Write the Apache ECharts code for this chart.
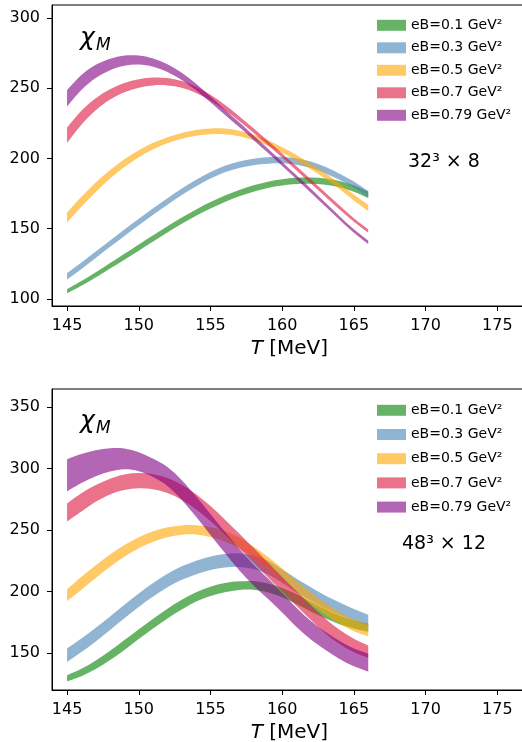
<!DOCTYPE html>
<html>
<head>
<meta charset="utf-8">
<script src="https://cdn.jsdelivr.net/npm/echarts@6/dist/echarts.min.js"></script>
<style>
html,body{margin:0;padding:0;background:#fff;}
#c{width:522px;height:742px;}
</style>
</head>
<body>
<div id="c"></div>
<script>
// ---------- data ----------
const T = [145,146,147,148,149,150,151,152,153,154,155,156,157,158,159,160,161,162,163,164,165,166];
const bandNames = ['eB=0.1 GeV²','eB=0.3 GeV²','eB=0.5 GeV²','eB=0.7 GeV²','eB=0.79 GeV²'];
const xTicks = [145,150,155,160,165,170,175];
const yTicksTop = [100,150,200,250,300];
const yTicksBottom = [150,200,250,300,350];
const latticeTop = '32³ × 8';
const latticeBottom = '48³ × 12';

// 32^3 x 8 : band centres (c) and full band widths (w)
const c8_01 = [105.5,111.1,117.2,123.6,130.1,136.6,143.1,149.5,155.7,161.5,166.7,171.3,175.3,178.6,181.2,183,184,184.2,183.5,181.7,178.6,174.1];
const w8_01 = [3,3.4,3.7,4,4.2,4.4,4.5,4.5,4.5,4.5,4.5,4.5,4.5,4.5,4.5,4.5,4.5,4.5,4.5,4.5,4.6,4.6];
const c8_03 = [116,123.6,131.5,139.4,147.2,154.8,162.2,169.4,176.3,182.5,188,192.5,195.5,197.5,198.6,198.8,197.8,195.5,191.8,187,181.5,174.7];
const w8_03 = [4.6,4.6,4.6,4.6,4.6,4.6,4.6,4.6,4.6,4.6,4.6,4.6,4.6,4.6,4.6,4.6,4.6,4.6,4.5,4.4,4.3,4.2];
const c8_05 = [158,169.2,179.5,188.7,196.7,203.4,208.8,213,216.1,218.2,219.3,219.3,217.8,215,211,206,200.4,194.3,187.6,180.2,172.2,164.7];
const w8_05 = [7,7,6.6,6,5.5,5,4.6,4.3,4,4,4,4,4,4,4,4,4,4,4,4,4.2,4.4];
const c8_07 = [216.5,229,238.6,245.6,250.4,253.4,254.8,254.6,252.7,248.8,243.3,236.3,228.4,219.9,211.1,202.1,192.9,183.6,174.3,165.1,156.2,148.4];
const w8_07 = [11,10,8.6,7.4,6.6,6,5.6,5.2,4.8,4.4,4,3.7,3.4,3.2,3,3,3,2.9,2.8,2.7,2.6,2.5];
const c8_079 = [242.8,254,261.9,266.9,269.6,270,268.2,264.3,258.4,250.8,242,233,224,214.8,205.5,196.1,186.6,177,167.3,157.7,148.4,140.4];
const w8_079 = [11.6,10.6,9.4,8.2,7.2,6.4,5.9,5.5,5.1,4.6,4.1,3.7,3.4,3.2,3,2.9,2.8,2.7,2.6,2.5,2.4,2.4];

// 48^3 x 12 : band centres (c) and full band widths (w)
const c12_01 = [129.5,134.2,140.5,148.1,156.6,165.4,174,182.1,189.4,195.6,200.2,203.2,204.8,205,203,199.2,193.8,187.8,182,177,173.2,170.5];
const w12_01 = [5,6,7,7.5,8,8,8,8,8,7.5,7.5,7.5,7,7,7,7.5,8,8,7.5,7,6.5,6.5];
const c12_03 = [148.3,156.4,165,174.3,183.8,193,201.5,209,215,219.6,223,225,225.5,223.8,219.5,212.5,205,198,191.5,186,181,176.5];
const w12_03 = [11,11,11,11,11,11,11,11,11,11,11,11,11,11,11,11,11,11,10.6,10.2,9.8,9.5];
const c12_05 = [197,206.7,216.2,225.1,233,239.6,244.7,248.2,250,250.1,248.4,245,239.5,232,223.5,214,204,194.5,186,178.5,172.5,168.5];
const w12_05 = [9.6,10.5,10.5,10,9.6,9,8.6,8,7.5,7.5,8,8.5,9,9.3,9.5,9.5,9.5,9.5,9.5,9.5,9.5,9.5];
const c12_07 = [264.3,272.5,279.7,285.3,288.8,290.1,289.2,286.1,280.7,273,263.4,252.6,241.2,229.5,217.7,205.9,194.2,182.8,172.2,163.2,156.2,151.2];
const w12_07 = [14.7,14.9,13.6,12.7,12.7,12.4,12.2,12.2,12.2,12.2,12.2,12,12,12,12,12,12,12,12,11.6,11,10];
const c12_079 = [294.5,300,304.3,307,307.8,305.5,300.5,293.5,282.5,269,254.5,240,226,213.5,202.5,191,179,168.5,160,152.5,146.5,142.3];
const w12_079 = [26,23.5,21,19,17,15.5,15,15.5,16,16.5,17,17,17.5,17,16.5,16,15.5,15,14.5,14.5,14.5,14.7];

// ---------- styling ----------
const baseColors = ['#008000','#4682b4','#ffa500','#dc143c','#800080'];
const ALPHA = 0.6;
function rgba(hex,a){
  const n = parseInt(hex.slice(1),16);
  return 'rgba(' + ((n>>16)&255) + ',' + ((n>>8)&255) + ',' + (n&255) + ',' + a + ')';
}
const FONT = 'DejaVu Sans';

const bandsTop = [[c8_01,w8_01],[c8_03,w8_03],[c8_05,w8_05],[c8_07,w8_07],[c8_079,w8_079]];
const bandsBottom = [[c12_01,w12_01],[c12_03,w12_03],[c12_05,w12_05],[c12_07,w12_07],[c12_079,w12_079]];

// Catmull-Rom spline through pixel points -> SVG path commands
function splineSegs(pts){
  let d = '';
  for (let i = 0; i < pts.length - 1; i++){
    const p0 = pts[Math.max(i-1,0)], p1 = pts[i], p2 = pts[i+1], p3 = pts[Math.min(i+2,pts.length-1)];
    const c1x = p1[0] + (p2[0]-p0[0])/6, c1y = p1[1] + (p2[1]-p0[1])/6;
    const c2x = p2[0] - (p3[0]-p1[0])/6, c2y = p2[1] - (p3[1]-p1[1])/6;
    d += ' C' + c1x.toFixed(2) + ' ' + c1y.toFixed(2) + ' ' + c2x.toFixed(2) + ' ' + c2y.toFixed(2) + ' ' + p2[0].toFixed(2) + ' ' + p2[1].toFixed(2);
  }
  return d;
}

const series = [];
function addBands(gridIdx, bands){
  bands.forEach((b,i)=>{
    const c = b[0], w = b[1];
    const lo = c.map((v,k)=>v - w[k]/2);
    const hi = c.map((v,k)=>v + w[k]/2);
    const color = baseColors[i];
    series.push({
      type:'custom', name: bandNames[i],
      xAxisIndex:gridIdx, yAxisIndex:gridIdx,
      coordinateSystem:'cartesian2d', clip:true, silent:true,
      data: T.map((t,k)=>[t, lo[k], hi[k]]),
      encode:{x:0, y:[1,2]},
      itemStyle:{color: rgba(color, ALPHA)},
      z: 2 + i,
      renderItem: function(params, api){
        if (params.dataIndex !== 0) return null;
        const up = T.map((t,k)=>api.coord([t, hi[k]]));
        const dn = T.map((t,k)=>api.coord([t, lo[k]])).reverse();
        const d = 'M' + up[0][0].toFixed(2) + ' ' + up[0][1].toFixed(2) + splineSegs(up) +
                  ' L' + dn[0][0].toFixed(2) + ' ' + dn[0][1].toFixed(2) + splineSegs(dn) + ' Z';
        return {
          type:'path',
          shape:{pathData:d},
          style:{fill: color, opacity: ALPHA, stroke:null}
        };
      }
    });
  });
}
addBands(0, bandsTop);
addBands(1, bandsBottom);

const gridW = 474.7;
function xAxis(gi){
  return {
    type:'value', gridIndex:gi, min:143.95, max:177.05,
    splitLine:{show:false},
    axisLine:{show:true, onZero:false, lineStyle:{color:'#000', width:1}},
    axisTick:{show:true, length:5, inside:false, lineStyle:{color:'#000', width:1}, customValues: xTicks},
    axisLabel:{show:true, margin:12, color:'#000', fontSize:16, fontFamily:FONT, customValues: xTicks,
               formatter: v => String(v)},
    name:'{i|T} [MeV]', nameLocation:'middle', nameGap:33,
    nameTextStyle:{color:'#000', fontSize:20, fontFamily:FONT,
      rich:{i:{fontStyle:'italic', fontSize:20, fontFamily:FONT, color:'#000'}}}
  };
}
function yAxis(gi, mn, mx, ticks){
  return {
    type:'value', gridIndex:gi, min:mn, max:mx,
    splitLine:{show:false},
    axisLine:{show:true, onZero:false, lineStyle:{color:'#000', width:1}},
    axisTick:{show:true, length:5, inside:false, lineStyle:{color:'#000', width:1}, customValues: ticks},
    axisLabel:{show:true, margin:12, color:'#000', fontSize:16, fontFamily:FONT, customValues: ticks,
               formatter: v => String(v)}
  };
}
function legend(top, gap){
  return {
    orient:'vertical', left:377, top:top, padding:0, itemGap:gap,
    itemWidth:29, itemHeight:11, icon:'rect', selectedMode:false,
    textStyle:{color:'#000', fontSize:14, fontFamily:FONT, lineHeight:16},
    data: bandNames.map((n,i)=>({name:n, icon:'rect', itemStyle:{color: rgba(baseColors[i],ALPHA), borderWidth:0}}))
  };
}

const chart = echarts.init(document.getElementById('c'), null, {renderer:'canvas'});
chart.setOption({
  animation:false,
  backgroundColor:'#fff',
  textStyle:{fontFamily:FONT},
  grid:[
    {left:52, top:5, width:gridW, height:301, show:true, borderColor:'#000', borderWidth:1, backgroundColor:'transparent', containLabel:false, outerBoundsMode:'none'},
    {left:52, top:389, width:gridW, height:301, show:true, borderColor:'#000', borderWidth:1, backgroundColor:'transparent', containLabel:false, outerBoundsMode:'none'}
  ],
  xAxis:[xAxis(0), xAxis(1)],
  yAxis:[yAxis(0, 95, 309.2, yTicksTop), yAxis(1, 120, 364.6, yTicksBottom)],
  legend:[legend(17.3, 6.5), legend(402.3, 8.2)],
  graphic:[
    {type:'text', left:80, top:26, silent:true, style:{text:'χ', font:'italic 25px "DejaVu Sans"', fill:'#000'}},
    {type:'text', left:96, top:37, silent:true, style:{text:'M', font:'italic 17px "DejaVu Sans"', fill:'#000'}},
    {type:'text', left:80, top:409, silent:true, style:{text:'χ', font:'italic 25px "DejaVu Sans"', fill:'#000'}},
    {type:'text', left:96, top:420, silent:true, style:{text:'M', font:'italic 17px "DejaVu Sans"', fill:'#000'}},
    {type:'text', left:408, top:153, silent:true, style:{text:latticeTop, font:'19px "DejaVu Sans"', fill:'#000'}},
    {type:'text', left:402, top:535, silent:true, style:{text:latticeBottom, font:'19px "DejaVu Sans"', fill:'#000'}}
  ],
  series: series
});
</script>
</body>
</html>
